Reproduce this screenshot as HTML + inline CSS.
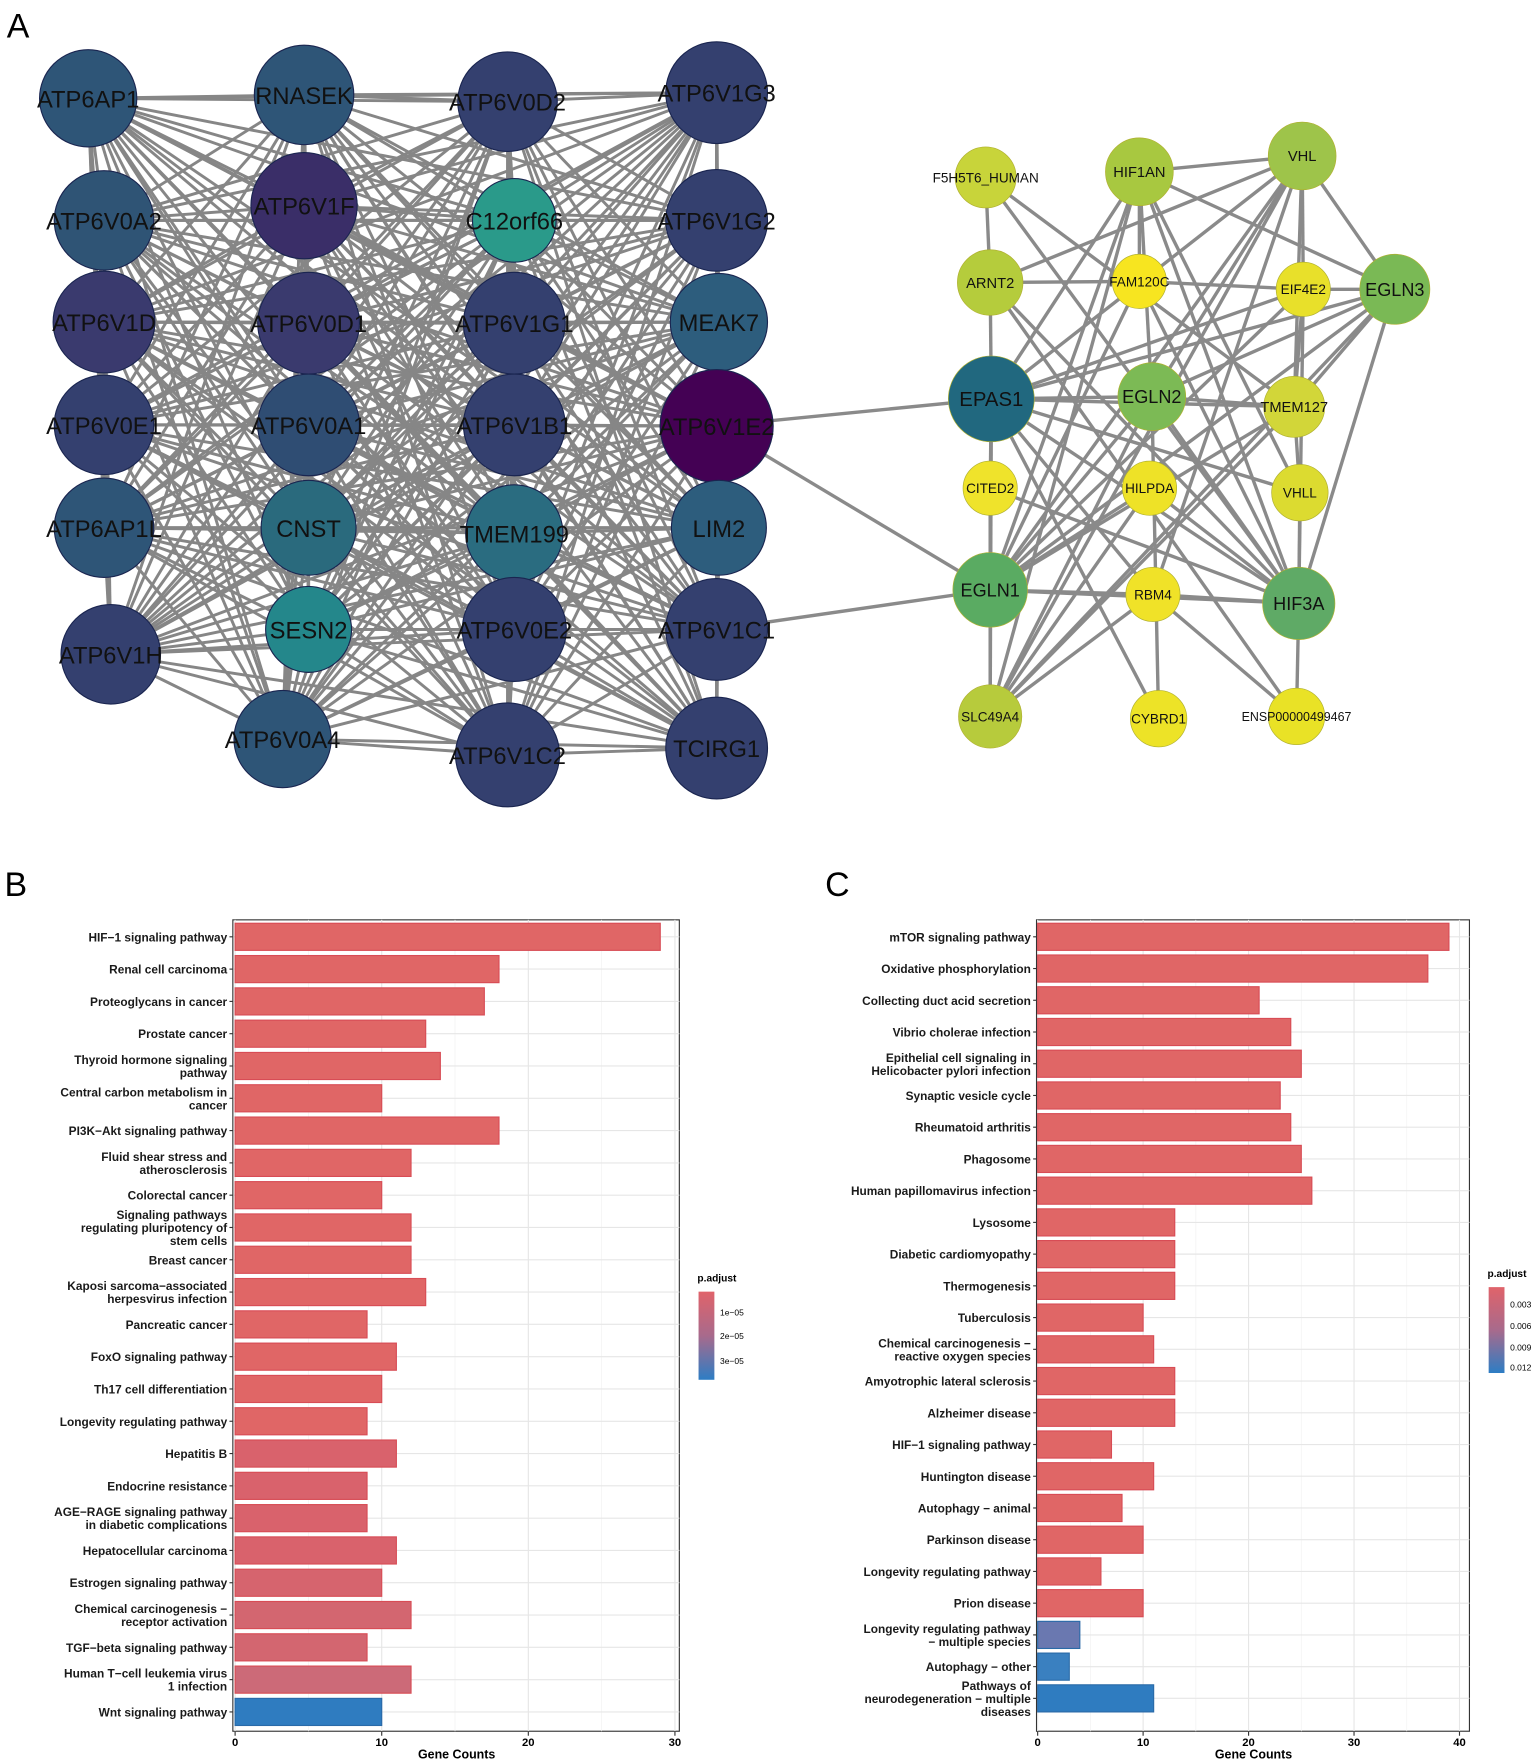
<!DOCTYPE html>
<html><head><meta charset="utf-8"><style>
html,body{margin:0;padding:0;background:#fff;}
svg{display:block;}
</style></head><body>
<svg id="s" width="1535" height="1764" viewBox="0 0 1358 1561" preserveAspectRatio="none" xmlns="http://www.w3.org/2000/svg" font-family="Liberation Sans, Arial, sans-serif">
<rect width="1358" height="1561" fill="#fff"/>
<g id="edges"></g><g id="nodes"></g><g id="bars"></g>
<text x="6" y="33" font-size="30" font-family="Liberation Sans Narrow, Liberation Sans, sans-serif">A</text>
<text x="4" y="793" font-size="30" font-family="Liberation Sans Narrow, Liberation Sans, sans-serif">B</text>
<text x="730" y="793" font-size="30" font-family="Liberation Sans Narrow, Liberation Sans, sans-serif">C</text>
</svg>
<script>
const NS="http://www.w3.org/2000/svg";
function el(p,t,a,txt){const e=document.createElementNS(NS,t);for(const k in a)e.setAttribute(k,a[k]);if(txt!==undefined)e.textContent=txt;p.appendChild(e);return e;}
const E=document.getElementById('edges'),N=document.getElementById('nodes'),B=document.getElementById('bars');
const L=[
["ATP6AP1",78,87,43,"#2e5577"],["ATP6V0A2",92,195,44,"#2f5475"],["ATP6V1D",92,285,45,"#3a3a6e"],["ATP6V0E1",92,376,44,"#34406f"],["ATP6AP1L",92,467,44,"#2e5577"],["ATP6V1H",98,579,44,"#34406f"],
["RNASEK",269,84,44,"#2e5577"],["ATP6V1F",269,182,47,"#3a2e68"],["ATP6V0D1",273,286,45,"#3a3a6e"],["ATP6V0A1",273,376,45,"#2f4d73"],["CNST",273,467,42,"#2a6a7d"],["SESN2",273,557,38,"#24878b"],["ATP6V0A4",250,654,43,"#2e5577"],
["ATP6V0D2",449,90,44,"#34406f"],["C12orf66",455,195,37,"#2a9a8a"],["ATP6V1G1",455,286,45,"#34406f"],["ATP6V1B1",455,376,45,"#34406f"],["TMEM199",455,472,43,"#2a6c80"],["ATP6V0E2",455,557,46,"#34406f"],["ATP6V1C2",449,668,46,"#34406f"],
["ATP6V1G3",634,82,45,"#34406f"],["ATP6V1G2",634,195,45,"#34406f"],["MEAK7",636,285,43,"#2d5d7d"],["ATP6V1E2",634,377,50,"#440154"],["LIM2",636,467,42,"#2d5d7d"],["ATP6V1C1",634,557,45,"#34406f"],["TCIRG1",634,662,45,"#34406f"]];
for(let i=0;i<L.length;i++)for(let j=i+1;j<L.length;j++){
 el(E,'line',{x1:L[i][1],y1:L[i][2],x2:L[j][1],y2:L[j][2],stroke:'#868686','stroke-width':2.6});}
const R={F5H5T6_HUMAN:[872,157,27,"#c8d43a",12],HIF1AN:[1008,152,30,"#a8c840",13],VHL:[1152,138,30,"#9ec44a",13],ARNT2:[876,250,29,"#b5cc3c",13],FAM120C:[1008,249,24,"#f7e520",12],EIF4E2:[1153,256,24,"#e8e02a",12],EGLN3:[1234,256,31,"#7ab955",16],EPAS1:[877,353,38,"#21687f",18],EGLN2:[1019,351,30,"#7cba55",16],TMEM127:[1145,360,27,"#d2d639",13],CITED2:[876,432,24,"#efe32b",12],HILPDA:[1017,432,24,"#eee227",12],VHLL:[1150,436,25,"#dcdb30",12],EGLN1:[876,522,33,"#5aab62",16],RBM4:[1020,526,24,"#f0e228",12],HIF3A:[1149,534,32,"#5faa66",16],SLC49A4:[876,634,28,"#b7cb3c",12],CYBRD1:[1025,636,25,"#ede327",12],ENSP00000499467:[1147,634,25,"#e9e226",11]};
const RE="F5H5T6_HUMAN-ARNT2 F5H5T6_HUMAN-TMEM127 F5H5T6_HUMAN-HIF3A HIF1AN-VHL HIF1AN-EGLN3 HIF1AN-FAM120C HIF1AN-EPAS1 HIF1AN-HIF3A HIF1AN-SLC49A4 HIF1AN-VHLL HIF1AN-EGLN1 HIF1AN-EGLN2 VHL-EGLN3 VHL-TMEM127 VHL-EPAS1 VHL-EGLN1 VHL-EGLN2 VHL-ARNT2 VHL-RBM4 VHL-EIF4E2 VHL-SLC49A4 ARNT2-FAM120C FAM120C-EIF4E2 EIF4E2-EGLN3 ARNT2-EPAS1 ARNT2-HIF3A ARNT2-ENSP00000499467 EGLN3-EPAS1 EGLN3-EGLN2 EGLN3-EGLN1 EGLN3-HIF3A EGLN3-TMEM127 EGLN3-SLC49A4 EPAS1-EGLN2 EPAS1-TMEM127 EPAS1-HIF3A EPAS1-VHLL EPAS1-CITED2 EPAS1-EGLN1 EPAS1-CYBRD1 EPAS1-SLC49A4 EPAS1-RBM4 EPAS1-EIF4E2 EGLN2-TMEM127 EGLN2-HIF3A EGLN2-EGLN1 EGLN2-SLC49A4 FAM120C-HIF3A FAM120C-EGLN1 TMEM127-VHLL VHLL-HIF3A EIF4E2-TMEM127 EGLN1-RBM4 EGLN1-HIF3A EGLN1-SLC49A4 EGLN1-HILPDA EGLN1-TMEM127 EGLN1-EIF4E2 HIF3A-RBM4 HIF3A-ENSP00000499467 HIF3A-HILPDA HIF3A-CITED2 CITED2-EGLN1 RBM4-SLC49A4 RBM4-ENSP00000499467 HILPDA-SLC49A4 EGLN2-CYBRD1 TMEM127-SLC49A4 EIF4E2-HIF3A".split(' ');
RE.forEach(s=>{const [a,b]=s.split('-');const p=R[a],q=R[b];el(E,'line',{x1:p[0],y1:p[1],x2:q[0],y2:q[1],stroke:'#8a8a8a','stroke-width':3});});
[[634,377,877,353],[634,377,876,522],[634,557,876,522]].forEach(c=>el(E,'line',{x1:c[0],y1:c[1],x2:c[2],y2:c[3],stroke:'#8a8a8a','stroke-width':3}));
L.forEach(n=>{el(N,'circle',{cx:n[1],cy:n[2],r:n[3],fill:n[4],stroke:'#1a2550','stroke-width':1});
 el(N,'text',{x:n[1],y:n[2]+8,'font-size':21,'text-anchor':'middle',fill:'#111'},n[0]);});
for(const k in R){const n=R[k];el(N,'circle',{cx:n[0],cy:n[1],r:n[2],fill:n[3],stroke:'#b0b030','stroke-width':0.6});
 el(N,'text',{x:n[0],y:n[1]+n[4]*0.36,'font-size':n[4],'text-anchor':'middle',fill:'#111'},k);}
function chart(o){
 const g=B;const T=814,H=718,Y0=829;
 el(g,'rect',{x:o.x0-1,y:T,width:o.x1-o.x0+1,height:H,fill:'#fff',stroke:'#333','stroke-width':1});
 for(let v=0;v<=o.max;v+=5){const x=o.z+v*o.k;if(x>o.x1)break;el(g,'line',{x1:x,y1:T,x2:x,y2:T+H,stroke:v%10?'#f2f2f2':'#e6e6e6','stroke-width':v%10?0.6:1});}
 o.d.forEach((d,i)=>{const y=Y0+i*o.sp;
  el(g,'line',{x1:o.x0,y1:y,x2:o.x1,y2:y,stroke:'#e6e6e6','stroke-width':1});
  const blue=d[3];
  el(g,'rect',{x:o.z,y:y-12,width:d[1]*o.k,height:24,fill:d[2]||'#e06666',stroke:blue?'#2a6aa8':'#d84c55','stroke-width':1});
  el(g,'line',{x1:o.x0-4,y1:y,x2:o.x0-1,y2:y,stroke:'#333'});
  const lines=d[0].split('|');const n=lines.length;
  lines.forEach((t,j)=>el(g,'text',{x:o.x0-6,y:y+4+(j-(n-1)/2)*11.5,'font-size':10.5,'font-weight':'bold','text-anchor':'end',fill:'#1a1a1a','font-family':'Liberation Sans Narrow, Liberation Sans, sans-serif'},t));});
 o.ticks.forEach(v=>{const x=o.z+v*o.k;el(g,'line',{x1:x,y1:T+H,x2:x,y2:T+H+4,stroke:'#333'});
  el(g,'text',{x:x,y:T+H+13,'font-size':10,'font-weight':'bold','text-anchor':'middle','font-family':'Liberation Sans Narrow, Liberation Sans, sans-serif'},v);});
 el(g,'text',{x:(o.x0+o.x1)/2,y:T+H+24,'font-size':11,'font-weight':'bold','text-anchor':'middle','font-family':'Liberation Sans Narrow, Liberation Sans, sans-serif'},'Gene Counts');
 const lg=o.lg;
 el(g,'text',{x:lg.x,y:lg.y,'font-size':9,'font-weight':'bold','font-family':'Liberation Sans Narrow, Liberation Sans, sans-serif'},'p.adjust');
 const id='gr'+lg.x;const defs=el(g,'defs',{});const gr=el(defs,'linearGradient',{id:id,x1:0,y1:0,x2:0,y2:1});
 el(gr,'stop',{offset:'0','stop-color':'#e0636a'});el(gr,'stop',{offset:'0.5','stop-color':'#a86a8c'});el(gr,'stop',{offset:'1','stop-color':'#2d7dc4'});
 el(g,'rect',{x:lg.x+1,y:lg.y+9,width:14,height:lg.h,fill:'url(#'+id+')'});
 lg.l.forEach(a=>el(g,'text',{x:lg.x+20,y:a[1]+3,'font-size':7.5,'font-family':'Liberation Sans Narrow, Liberation Sans, sans-serif'},a[0]));
}
chart({x0:207,x1:601,z:208,k:12.97,max:30,sp:28.58,ticks:[0,10,20,30],
 d:[["HIF−1 signaling pathway",29],["Renal cell carcinoma",18],["Proteoglycans in cancer",17],["Prostate cancer",13],["Thyroid hormone signaling|pathway",14],["Central carbon metabolism in|cancer",10],["PI3K−Akt signaling pathway",18],["Fluid shear stress and|atherosclerosis",12],["Colorectal cancer",10],["Signaling pathways|regulating pluripotency of|stem cells",12],["Breast cancer",12],["Kaposi sarcoma−associated|herpesvirus infection",13],["Pancreatic cancer",9],["FoxO signaling pathway",11],["Th17 cell differentiation",10],["Longevity regulating pathway",9],["Hepatitis B",11,"#d9626c"],["Endocrine resistance",9,"#d9626c"],["AGE−RAGE signaling pathway|in diabetic complications",9,"#d9626c"],["Hepatocellular carcinoma",11,"#d9626c"],["Estrogen signaling pathway",10,"#d6646e"],["Chemical carcinogenesis −|receptor activation",12,"#d36670"],["TGF−beta signaling pathway",9,"#d36670"],["Human T−cell leukemia virus|1 infection",12,"#cc6a78"],["Wnt signaling pathway",10,"#2f7cc0",1]],
 lg:{x:617,y:1134,h:78,l:[["1e−05",1161],["2e−05",1182],["3e−05",1204]]}});
chart({x0:918,x1:1300,z:918,k:9.33,max:40,sp:28.08,ticks:[0,10,20,30,40],
 d:[["mTOR signaling pathway",39],["Oxidative phosphorylation",37],["Collecting duct acid secretion",21],["Vibrio cholerae infection",24],["Epithelial cell signaling in|Helicobacter pylori infection",25],["Synaptic vesicle cycle",23],["Rheumatoid arthritis",24],["Phagosome",25],["Human papillomavirus infection",26],["Lysosome",13],["Diabetic cardiomyopathy",13],["Thermogenesis",13],["Tuberculosis",10],["Chemical carcinogenesis −|reactive oxygen species",11],["Amyotrophic lateral sclerosis",13],["Alzheimer disease",13],["HIF−1 signaling pathway",7],["Huntington disease",11],["Autophagy − animal",8],["Parkinson disease",10],["Longevity regulating pathway",6],["Prion disease",10],["Longevity regulating pathway|− multiple species",4,"#6a78b0",1],["Autophagy − other",3,"#3a80c0",1],["Pathways of|neurodegeneration − multiple|diseases",11,"#2f7cc0",1]],
 lg:{x:1316,y:1130,h:76,l:[["0.003",1154],["0.006",1173],["0.009",1192],["0.012",1210]]}});
</script>
</body></html>
